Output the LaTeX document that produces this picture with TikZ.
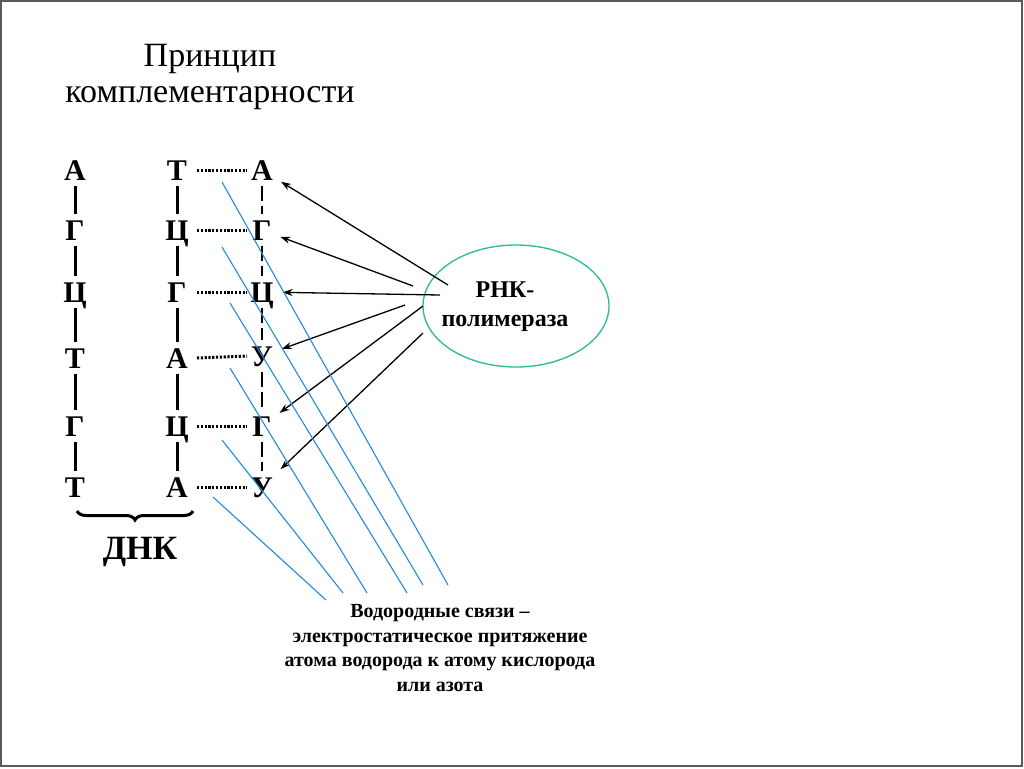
\documentclass[tikz,border=0pt]{standalone}
\usepackage{fontspec}
\setmainfont{Liberation Serif}
\usetikzlibrary{arrows.meta,decorations.pathreplacing,shapes.geometric}
\definecolor{hbond}{RGB}{30,140,215}
\definecolor{enzyme}{RGB}{40,185,150}
\definecolor{frame}{RGB}{90,90,90}

\begin{document}
\begin{tikzpicture}[x=1pt, y=-1pt,
    base/.style = {font=\bfseries\fontsize{30}{30}\selectfont, text height=20pt, text depth=0pt, inner xsep=4pt, inner ysep=6pt, outer sep=0pt},
    bar/.style = {line width=3pt},
    rbar/.style = {line width=2pt, dash pattern=on 15pt off 5pt},
    hdots/.style = {line width=3pt, dash pattern=on 2.2pt off 1.6pt},
    hbondline/.style = {hbond, line width=1.1pt},
    arr/.style = {-{Stealth[length=10pt, width=7pt]}, line width=1.3pt, shorten >=5pt}]
    \useasboundingbox (0,0) rectangle (1024,768);
    \draw[frame, line width=1.5pt] (1,1) rectangle (1022,766);

    % title
    \node[align=center, font=\fontsize{34}{36}\selectfont] (title) at (210,77) {Принцип\\комплементарности};

    % DNA, first strand
    \node[base] (l1) at (75,170) {А};
    \node[base] (l2) at (75,230) {Г};
    \node[base] (l3) at (75,292) {Ц};
    \node[base] (l4) at (75,358) {Т};
    \node[base] (l5) at (75,426) {Г};
    \node[base] (l6) at (75,487) {Т};
    \draw[bar] (l1) -- (l2);
    \draw[bar] (l2) -- (l3);
    \draw[bar] (l3) -- (l4);
    \draw[bar] (l4) -- (l5);
    \draw[bar] (l5) -- (l6);

    % DNA, second strand
    \node[base] (m1) at (177,170) {Т};
    \node[base] (m2) at (177,230) {Ц};
    \node[base] (m3) at (177,292) {Г};
    \node[base] (m4) at (177,358) {А};
    \node[base] (m5) at (177,426) {Ц};
    \node[base] (m6) at (177,487) {А};
    \draw[bar] (m1) -- (m2);
    \draw[bar] (m2) -- (m3);
    \draw[bar] (m3) -- (m4);
    \draw[bar] (m4) -- (m5);
    \draw[bar] (m5) -- (m6);

    % RNA strand
    \node[base] (r1) at (262,170) {А};
    \node[base] (r2) at (262,230) {Г};
    \node[base] (r3) at (262,292) {Ц};
    \node[base] (r4) at (262,356) {У};
    \node[base] (r5) at (262,426) {Г};
    \node[base] (r6) at (262,487) {У};
    \draw[rbar] (r1) -- (r2);
    \draw[rbar] (r2) -- (r3);
    \draw[rbar] (r3) -- (r4);
    \draw[rbar] (r4) -- (r5);
    \draw[rbar] (r5) -- (r6);

    % pairing
    \draw[hdots] ([xshift=20pt]m1.center) -- ([xshift=-15pt]r1.center);
    \draw[hdots] ([xshift=20pt]m2.center) -- ([xshift=-15pt]r2.center);
    \draw[hdots] ([xshift=20pt]m3.center) -- ([xshift=-15pt]r3.center);
    \draw[hdots] ([xshift=20pt]m4.center) -- ([xshift=-15pt]r4.center);
    \draw[hdots] ([xshift=20pt]m5.center) -- ([xshift=-15pt]r5.center);
    \draw[hdots] ([xshift=20pt]m6.center) -- ([xshift=-15pt]r6.center);

    \draw[bar, decorate, decoration={brace, mirror, amplitude=9pt}] ([xshift=2pt, yshift=-8pt]l6.south) -- ([xshift=16pt, yshift=-8pt]m6.south);
    \node[font=\bfseries\fontsize{34}{34}\selectfont] (dna) at (140,552) {ДНК};

    % enzyme
    \node[ellipse, draw=enzyme, line width=1.3pt, minimum width=186pt, minimum height=122pt] (pol) at (516,306) {};
    \node[align=center, font=\bfseries\fontsize{24}{29}\selectfont] (polname) at (505,307) {РНК-\\полимераза};
    \coordinate (s1) at (448,285);
    \coordinate (s2) at (413,286);
    \coordinate (s3) at (440,295);
    \coordinate (s4) at (405,305);
    \coordinate (s5) at (423,306);
    \coordinate (s6) at (423,333);
    \draw[arr] (s1) -- (r1);
    \draw[arr] (s2) -- (r2);
    \draw[arr] (s3) -- (r3);
    \draw[arr] (s4) -- (r4);
    \draw[arr] (s5) -- (r5);
    \draw[arr] (s6) -- (r6);

    % hydrogen bonds
    \draw[hbondline] (222,182) -- (448,585);
    \draw[hbondline] (222,247) -- (423,585);
    \draw[hbondline] (230,303) -- (407,593);
    \draw[hbondline] (230,368) -- (367,593);
    \draw[hbondline] (222,440) -- (343,593);
    \draw[hbondline] (213,497) -- (326,600);
    \node[align=center, font=\bfseries\fontsize{20}{24.5}\selectfont] (note) at (440,648) {Водородные связи --\\электростатическое притяжение\\атома водорода к атому кислорода\\или азота};
\end{tikzpicture}
\end{document}
